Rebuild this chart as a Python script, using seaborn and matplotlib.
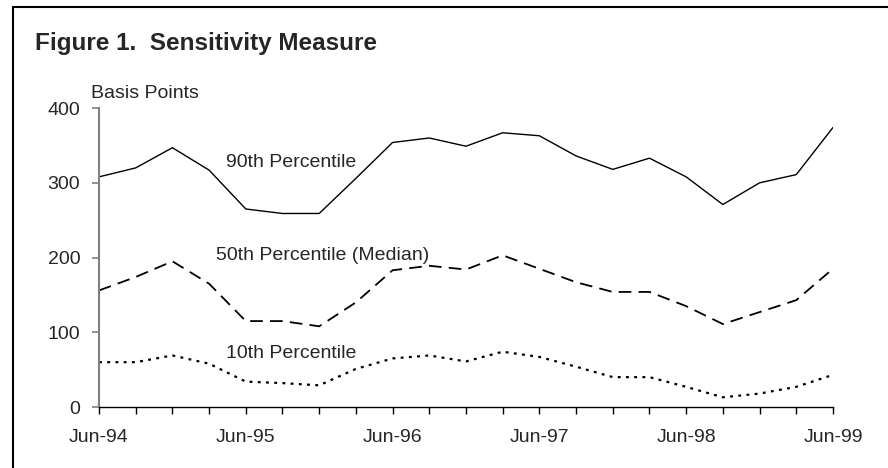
import pandas as pd
import matplotlib.pyplot as plt
import seaborn as sns
import numpy as np

# quarterly observations, Jun-94 .. Jun-99
quarters = ["Jun-94", "Sep-94", "Dec-94", "Mar-95", "Jun-95", "Sep-95", "Dec-95", "Mar-96",
            "Jun-96", "Sep-96", "Dec-96", "Mar-97", "Jun-97", "Sep-97", "Dec-97", "Mar-98",
            "Jun-98", "Sep-98", "Dec-98", "Mar-99", "Jun-99"]
p90 = [308, 320, 347, 317, 265, 259, 259, 306, 354, 360, 349, 367, 363, 336, 318, 333,
       308, 271, 300, 311, 374]
p50 = [156, 174, 195, 165, 115, 115, 108, 140, 183, 189, 184, 203, 185, 167, 154, 154,
       135, 111, 127, 143, 185]
p10 = [60, 60, 69, 58, 34, 32, 29, 51, 65, 69, 61, 74, 67, 54, 40, 40,
       27, 13, 18, 27, 43]
tick_labels = ["Jun-94", "Jun-95", "Jun-96", "Jun-97", "Jun-98", "Jun-99"]

sns.set_style("white")
plt.rcParams['font.family'] = ['Liberation Sans', 'DejaVu Sans']

data = pd.DataFrame({"q": np.arange(len(quarters)), "p90": p90, "p50": p50, "p10": p10})

fig = plt.figure(figsize=(8.88, 4.68), dpi=100)
ax = fig.add_axes([0.1115, 0.1303, 0.8265, 0.6387])

# Draw the three percentile lines
sns.lineplot(data=data, x="q", y="p90", ax=ax, color="black", lw=1.0)
sns.lineplot(data=data, x="q", y="p50", ax=ax, color="black", lw=1.3,
             linestyle=(0, (7, 4)))
sns.lineplot(data=data, x="q", y="p10", ax=ax, color="black", lw=1.6,
             linestyle=(0, (1.3, 2.4)))

ax.set_xlim(0, len(quarters) - 1)
ax.set_ylim(0, 400)
ax.set_yticks([0, 100, 200, 300, 400])
ax.set_xticks(np.arange(len(quarters)))
ax.set_xticklabels([q if q in tick_labels else "" for q in quarters])
ax.set_xlabel("")
ax.set_ylabel("")

for s in ["top", "right"]:
    ax.spines[s].set_visible(False)
ax.spines["left"].set_color("#808080")
ax.spines["left"].set_linewidth(1.5)
ax.spines["bottom"].set_color("black")
ax.spines["bottom"].set_linewidth(1.0)
ax.tick_params(axis="y", direction="out", length=5, width=1.2, color="#808080",
               labelsize=14, pad=8.5, left=True)
ax.tick_params(axis="x", direction="out", length=5, width=1.0, color="black",
               labelsize=14, pad=11, bottom=True)

# Labels
ax.text(3.45, 327, "90th Percentile", fontsize=14, va="center")
ax.text(3.2, 203, "50th Percentile (Median)", fontsize=14, va="center")
ax.text(3.45, 72, "10th Percentile", fontsize=14, va="center")
ax.text(-0.23, 420, "Basis Points", fontsize=14, va="center", clip_on=False)

fig.text(0.0394, 0.908, "Figure 1.  Sensitivity Measure", fontsize=17.5, fontweight="bold",
         va="center")

# partial frame (left and top edges)
fig.add_artist(plt.Line2D([0.0145, 0.0145], [0, 0.985], color="black", lw=1.5))
fig.add_artist(plt.Line2D([0.0145, 1.0], [0.985, 0.985], color="black", lw=1.5))

plt.savefig("out.png", dpi=100)
